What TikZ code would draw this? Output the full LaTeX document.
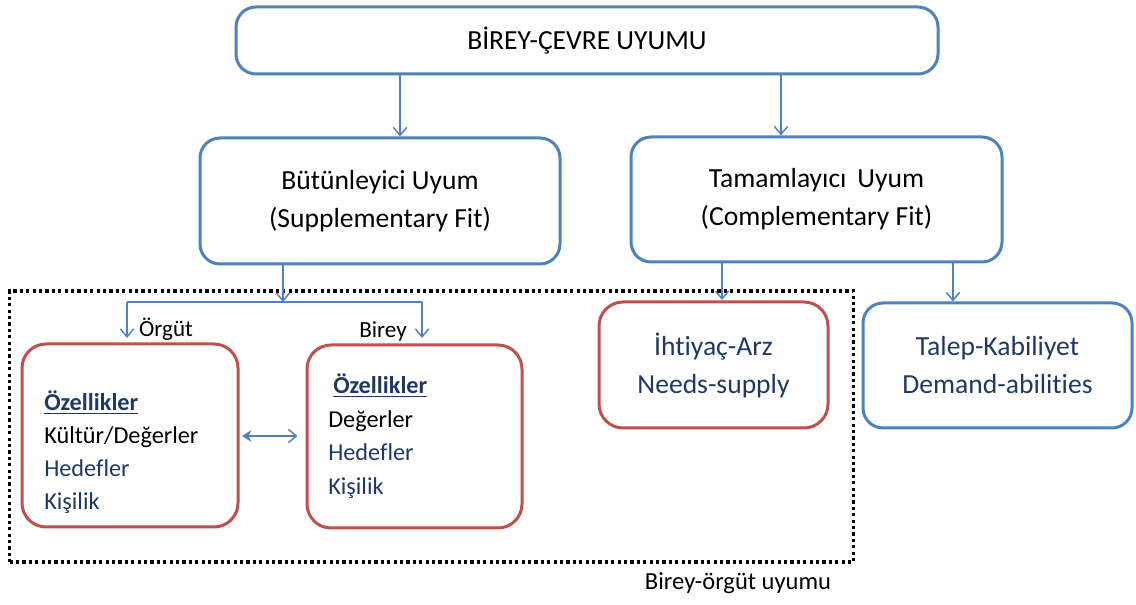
\documentclass[tikz,border=0pt]{standalone}
\usepackage{fontspec}
\setmainfont{Carlito}[Ligatures=NoCommon]
\usetikzlibrary{arrows.meta}
\definecolor{fitblue}{HTML}{4F81BD}
\definecolor{fitred}{HTML}{C0504D}
\definecolor{navy}{HTML}{1F3864}
\tikzset{
  box/.style={draw, line width=2.25pt, rounded corners=15pt, inner sep=0pt, align=center},
  bluebox/.style={box, draw=fitblue},
  redbox/.style={box, draw=fitred, rounded corners=18pt},
  conn/.style={draw=fitblue, line width=1.1pt, -{Straight Barb[length=6pt,width=10pt,line width=1.1pt]}},
  big/.style={font=\fontsize{20.7}{28.5}\selectfont},
  mid/.style={font=\fontsize{18.2}{24.75}\selectfont},
  lbl/.style={font=\fontsize{17.3}{20}\selectfont, inner sep=0pt},
  itm/.style={mid, anchor=base west, inner sep=0pt},
  group/.style={draw=black, line width=2.4pt, dash pattern=on 2.4pt off 2.4pt, inner sep=0pt}
}
\begin{document}
\begin{tikzpicture}[x=0.75pt, y=-0.75pt]
\useasboundingbox (0,0) rectangle (1136,605);

% boxes
\node[bluebox, big, minimum width=526.5pt, minimum height=50.25pt] (top) at (587,40.5) {BİREY-ÇEVRE UYUMU};
\node[bluebox, big, minimum width=270pt, minimum height=94.5pt] (bu) at (380,201) {Bütünleyici Uyum\\(Supplementary Fit)};
\node[bluebox, big, minimum width=278.25pt, minimum height=93.75pt] (ta) at (816.5,199.5) {Tamamlayıcı\, Uyum\\(Complementary Fit)};
\node[redbox, minimum width=162pt, minimum height=137.25pt] (L) at (130,435.5) {};
\node[redbox, minimum width=161.25pt, minimum height=137.25pt] (R) at (414.5,436.5) {};
\node[redbox, big, text=navy, minimum width=171.75pt, minimum height=94.5pt] (ih) at (713.5,365) {İhtiyaç-Arz\\Needs-supply};
\node[bluebox, big, text=navy, minimum width=201.75pt, minimum height=93.75pt] (tk) at (997.5,365.5) {Talep-Kabiliyet\\Demand-abilities};
\node[group, minimum width=633pt, minimum height=203.25pt] (grp) at (431.5,426.5) {};

% box contents
\node[itm, text=navy] (l1) at (44,411) {\underline{\textbf{Özellikler}}};
\node[itm] (l2) at (44,444) {Kültür/Değerler};
\node[itm, text=navy] (l3) at (44,477) {Hedefler};
\node[itm, text=navy] (l4) at (44,510) {Kişilik};
\node[itm, text=navy] (r1) at (333,394) {\underline{\textbf{Özellikler}}};
\node[itm] (r2) at (328,428) {Değerler};
\node[itm, text=navy] (r3) at (328,461) {Hedefler};
\node[itm, text=navy] (r4) at (328,495) {Kişilik};

% labels
\node[lbl] (org) at (166,329) {Örgüt};
\node[lbl] (bir) at (383,331) {Birey};
\node[font=\fontsize{18.4}{22}\selectfont, inner sep=0pt] (bo) at (738,583) {Birey-örgüt uyumu};

% connectors
\coordinate (x1) at (400,0);
\coordinate (x2) at (781,0);
\coordinate (x3) at (283,0);
\coordinate (x4) at (722,0);
\coordinate (x5) at (953,0);
\coordinate (jn) at (283,302);
\coordinate (jl) at (127,302);
\coordinate (jr) at (422,302);
\coordinate (yl) at (0,338);
\coordinate (yt) at (0,300);

\draw[conn] (top.south -| x1) -- (bu.north -| x1);
\draw[conn] (top.south -| x2) -- (ta.north -| x2);
\draw[conn] (bu.south -| x3) -- (jn);
\draw[draw=fitblue, line width=1.1pt] (jl) -- (jr);
\draw[conn] (jl) -- (jl |- yl);
\draw[conn] (jr) -- (jr |- yl);
\draw[conn] (ta.south -| x4) -- (x4 |- yt);
\draw[conn] (ta.south -| x5) -- (tk.north -| x5);
\draw[draw=fitblue, line width=1.1pt, {Stealth[length=7pt,width=9pt]}-{Straight Barb[length=6pt,width=10pt,line width=1.1pt]}] ([xshift=2pt]L.east |- 0,436) -- ([xshift=-6pt]R.west |- 0,436);
\end{tikzpicture}
\end{document}
